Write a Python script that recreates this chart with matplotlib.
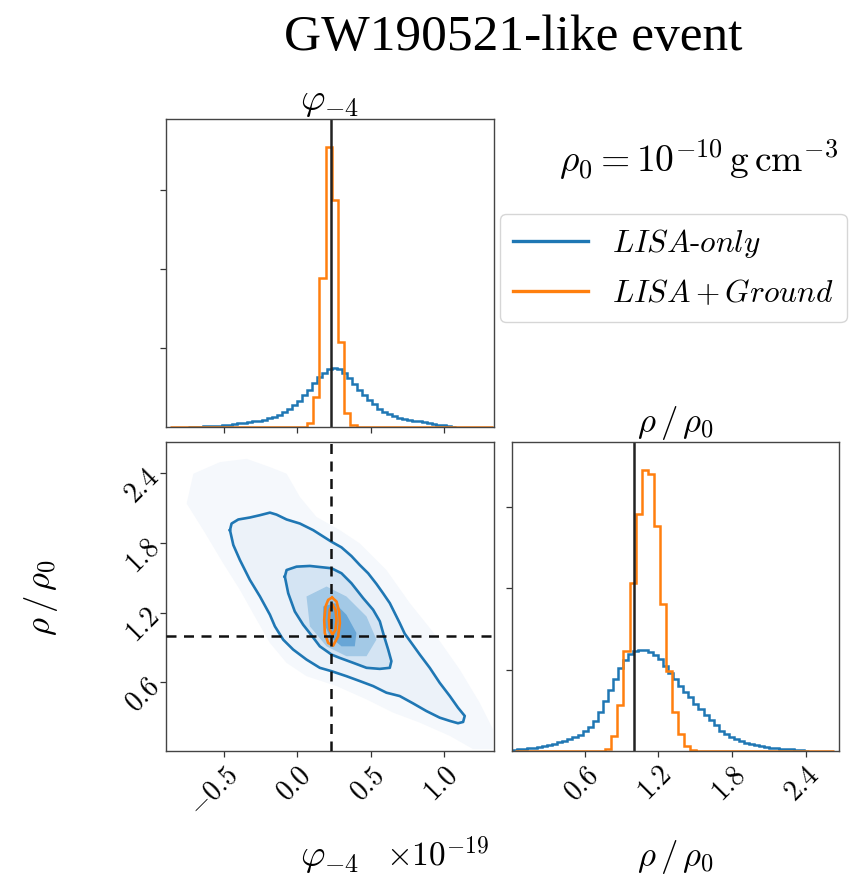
import numpy as np
import matplotlib
matplotlib.use('Agg')
import matplotlib.pyplot as plt
from matplotlib.lines import Line2D
from matplotlib.patches import Polygon

plt.rcParams['mathtext.fontset'] = 'cm'
plt.rcParams['font.family'] = ['DejaVu Serif']

# ---------------- data ----------------
phi_truth = 0.232
rho_truth = 1.0
phi_lim = (-0.898, 1.343)
rho_lim = (0.01, 2.67)

phi_ticks = [-0.5, 0.0, 0.5, 1.0]
phi_ticklabels = [r'$-0.5$', r'$0.0$', r'$0.5$', r'$1.0$']
rho_ticks = [0.6, 1.2, 1.8, 2.4]
rho_ticklabels = [r'$0.6$', r'$1.2$', r'$1.8$', r'$2.4$']
hist_yticks = [1, 2, 3]

# phi_-4 marginal, LISA-only (54 bins)
phi_blue_range = (-0.75, 1.086)
phi_blue = [0.002, 0.004, 0.006, 0.008, 0.010, 0.013, 0.016, 0.022, 0.030, 0.040,
            0.048, 0.056, 0.064, 0.073, 0.082, 0.095, 0.11, 0.13, 0.155, 0.185,
            0.225, 0.275, 0.33, 0.40, 0.47, 0.56, 0.63, 0.69, 0.73, 0.75,
            0.74, 0.69, 0.62, 0.54, 0.47, 0.40, 0.34, 0.29, 0.23, 0.195,
            0.165, 0.14, 0.12, 0.105, 0.09, 0.08, 0.07, 0.058, 0.047, 0.038,
            0.030, 0.022, 0.012, 0.005]
# phi_-4 marginal, LISA+Ground (52 bins)
phi_orange_range = (-0.8705, 1.3395)
phi_orange = [0, 0, 0, 0, 0, 0, 0, 0, 0, 0,
              0, 0, 0, 0, 0, 0, 0, 0, 0, 0,
              0, 0, 0.045, 0.38, 1.89, 3.55, 2.88, 1.075, 0.18, 0.02,
              0, 0, 0, 0, 0, 0, 0, 0, 0, 0,
              0, 0, 0, 0, 0, 0, 0, 0, 0, 0,
              0, 0]
# rho/rho0 marginal, LISA-only (59 bins)
rho_blue_range = (0.01, 2.429)
rho_blue = [0.015, 0.02, 0.025, 0.032, 0.04, 0.048, 0.06, 0.075, 0.09, 0.105,
            0.12, 0.145, 0.17, 0.20, 0.24, 0.29, 0.37, 0.48, 0.61, 0.75,
            0.89, 1.02, 1.12, 1.19, 1.23, 1.245, 1.24, 1.21, 1.18, 1.13,
            1.05, 0.96, 0.88, 0.80, 0.73, 0.66, 0.58, 0.51, 0.44, 0.38,
            0.32, 0.25, 0.21, 0.17, 0.145, 0.12, 0.10, 0.085, 0.07, 0.06,
            0.05, 0.042, 0.036, 0.03, 0.025, 0.02, 0.017, 0.013, 0.006]
# rho/rho0 marginal, LISA+Ground (53 bins)
rho_orange_range = (0.035, 2.632)
rho_orange = [0, 0, 0, 0, 0, 0, 0, 0, 0, 0,
              0, 0, 0, 0, 0, 0.03, 0.18, 0.57, 1.23, 2.06,
              2.91, 3.45, 3.40, 2.76, 1.81, 0.98, 0.48, 0.21, 0.06, 0.01,
              0, 0, 0, 0, 0, 0, 0, 0, 0, 0,
              0, 0, 0, 0, 0, 0, 0, 0, 0, 0,
              0, 0, 0]

# 2D: LISA-only contours (phi, rho)
blue_outer_phi = [-0.461, -0.450, -0.404, -0.325, -0.256, -0.188, -0.143, -0.074, 0.017, 0.108,
                  0.233, 0.301, 0.369, 0.426, 0.483, 0.540, 0.585, 0.631, 0.665, 0.699,
                  0.733, 0.779, 0.836, 0.904, 0.972, 1.041, 1.097, 1.143, 1.132, 1.097,
                  1.041, 0.972, 0.881, 0.790, 0.699, 0.608, 0.517, 0.426, 0.335, 0.233,
                  0.153, 0.062, -0.029, -0.097, -0.154, -0.188, -0.256, -0.325, -0.393, -0.438,
                  -0.461]
blue_outer_rho = [1.911, 1.968, 2.003, 2.020, 2.040, 2.062, 2.045, 2.003, 1.968, 1.911,
                  1.811, 1.763, 1.688, 1.611, 1.540, 1.448, 1.368, 1.283, 1.197, 1.111,
                  1.020, 0.940, 0.840, 0.726, 0.597, 0.483, 0.383, 0.312, 0.260, 0.249,
                  0.269, 0.297, 0.354, 0.420, 0.483, 0.512, 0.569, 0.612, 0.654, 0.697,
                  0.726, 0.797, 0.883, 0.968, 1.083, 1.183, 1.340, 1.483, 1.654, 1.783,
                  1.911]
blue_inner_phi = [-0.086, -0.074, -0.006, 0.085, 0.233, 0.301, 0.369, 0.449, 0.517, 0.563,
                  0.590, 0.620, 0.642, 0.631, 0.563, 0.472, 0.381, 0.290, 0.233, 0.153,
                  0.096, 0.039, -0.018, -0.063, -0.086]
blue_inner_rho = [1.511, 1.568, 1.597, 1.603, 1.583, 1.540, 1.454, 1.326, 1.226, 1.126,
                  1.006, 0.883, 0.783, 0.726, 0.717, 0.726, 0.769, 0.811, 0.840, 0.911,
                  1.006, 1.097, 1.211, 1.368, 1.511]
# 2D: LISA+Ground contours
orange_outer_phi = [0.237, 0.267, 0.285, 0.290, 0.278, 0.244, 0.210, 0.187, 0.183, 0.192, 0.210, 0.237]
orange_outer_rho = [1.331, 1.297, 1.211, 1.111, 0.997, 0.917, 0.940, 1.026, 1.140, 1.254, 1.311, 1.331]
orange_inner_phi = [0.240, 0.260, 0.267, 0.260, 0.240, 0.221, 0.215, 0.221, 0.240]
orange_inner_rho = [1.268, 1.226, 1.140, 1.054, 1.011, 1.054, 1.140, 1.226, 1.268]

# 2D: LISA-only density regions (faint cloud and denser core)
cloud_phi = [-0.711, -0.529, -0.347, -0.188, -0.074, 0.017, 0.130, 0.290, 0.426, 0.608,
             0.768, 0.950, 1.109, 1.245, 1.336, 1.336, 1.200, 1.041, 0.836, 0.654,
             0.472, 0.267, 0.062, -0.074, -0.188, -0.279, -0.393, -0.507, -0.643, -0.757]
cloud_rho = [2.397, 2.497, 2.525, 2.454, 2.397, 2.197, 2.025, 1.911, 1.797, 1.568,
             1.283, 0.997, 0.711, 0.426, 0.197, 0.026, 0.026, 0.140, 0.254, 0.340,
             0.454, 0.569, 0.654, 0.768, 0.940, 1.140, 1.397, 1.625, 1.911, 2.140]
core_mid_phi = [0.062, 0.199, 0.335, 0.472, 0.540, 0.472, 0.335, 0.199, 0.085]
core_mid_rho = [1.340, 1.426, 1.340, 1.168, 0.969, 0.826, 0.826, 0.911, 1.083]
core_dark_phi = [0.176, 0.256, 0.335, 0.403, 0.392, 0.301, 0.221, 0.176]
core_dark_rho = [1.254, 1.283, 1.183, 1.026, 0.911, 0.911, 0.997, 1.126]

labels = [r'$LISA\text{-}only$', r'$LISA+Ground$']
c_blue = '#1f77b4'
c_orange = '#ff7f0e'

# ---------------- figure ----------------
W, H = 859, 882
fig = plt.figure(figsize=(W / 100, H / 100), dpi=100)


def ax_px(x0, y0, x1, y1):
    return fig.add_axes([x0 / W, 1 - y1 / H, (x1 - x0) / W, (y1 - y0) / H])


ax_top = ax_px(166, 119, 494, 427)
ax_2d = ax_px(166, 442, 494, 751)
ax_r = ax_px(512, 442, 839, 751)

spine_col = '#444444'
tick_fs = 20
for ax in (ax_top, ax_2d, ax_r):
    for s in ax.spines.values():
        s.set_color(spine_col)
        s.set_linewidth(1.0)
    ax.tick_params(direction='out', length=4, width=0.9, color='#333333', labelsize=tick_fs)

lw = 1.8
# top marginal
e = np.linspace(phi_blue_range[0], phi_blue_range[1], len(phi_blue) + 1)
ax_top.stairs(phi_blue, e, color=c_blue, lw=lw, baseline=0)
e = np.linspace(phi_orange_range[0], phi_orange_range[1], len(phi_orange) + 1)
ax_top.stairs(phi_orange, e, color=c_orange, lw=lw, baseline=0)
ax_top.axvline(phi_truth, color='#222222', lw=1.8)
ax_top.set_xlim(phi_lim)
ax_top.set_ylim(0, 1.1 * max(phi_orange))
ax_top.set_xticks(phi_ticks)
ax_top.set_xticklabels([])
ax_top.set_yticks(hist_yticks)
ax_top.set_yticklabels([])
ax_top.set_title(r'$\varphi_{-4}$', fontsize=27, pad=6)

# right marginal
e = np.linspace(rho_blue_range[0], rho_blue_range[1], len(rho_blue) + 1)
ax_r.stairs(rho_blue, e, color=c_blue, lw=lw, baseline=0)
e = np.linspace(rho_orange_range[0], rho_orange_range[1], len(rho_orange) + 1)
ax_r.stairs(rho_orange, e, color=c_orange, lw=lw, baseline=0)
ax_r.axvline(rho_truth, color='#222222', lw=1.8)
ax_r.set_xlim(rho_lim)
ax_r.set_ylim(0, 1.1 * max(rho_orange))
ax_r.set_xticks(rho_ticks)
ax_r.set_xticklabels(rho_ticklabels, rotation=45, ha='right', va='top', rotation_mode='anchor')
ax_r.set_yticks(hist_yticks)
ax_r.set_yticklabels([])
ax_r.set_title(r'$\rho\,/\,\rho_0$', fontsize=25, pad=5)

# 2D panel
fills = [(cloud_phi, cloud_rho, '#f5f8fc'),
         (blue_outer_phi, blue_outer_rho, '#ecf2f9'),
         (blue_inner_phi, blue_inner_rho, '#d4e4f3'),
         (core_mid_phi, core_mid_rho, '#a3c9e6'),
         (core_dark_phi, core_dark_rho, '#68a6d6')]
for px, py, col in fills:
    ax_2d.add_patch(Polygon(np.column_stack([px, py]), closed=True, facecolor=col,
                            edgecolor='none', zorder=1))
ax_2d.plot(blue_outer_phi, blue_outer_rho, color=c_blue, lw=1.9, zorder=3)
ax_2d.plot(blue_inner_phi, blue_inner_rho, color=c_blue, lw=1.9, zorder=3)
ax_2d.plot(orange_outer_phi, orange_outer_rho, color=c_orange, lw=1.9, zorder=4)
ax_2d.plot(orange_inner_phi, orange_inner_rho, color=c_orange, lw=1.9, zorder=4)
ax_2d.axvline(phi_truth, color='#111111', lw=1.8, ls=(0, (4, 3)), zorder=5)
ax_2d.axhline(rho_truth, color='#111111', lw=1.8, ls=(0, (4, 3)), zorder=5)
ax_2d.set_xlim(phi_lim)
ax_2d.set_ylim(rho_lim)
ax_2d.set_xticks(phi_ticks)
ax_2d.set_xticklabels(phi_ticklabels, rotation=45, ha='right', va='top', rotation_mode='anchor')
ax_2d.set_yticks(rho_ticks)
ax_2d.set_yticklabels(rho_ticklabels, rotation=45, ha='right', va='center', rotation_mode='anchor')

# axis labels
fig.text(330 / W, 1 - 866 / H, r'$\varphi_{-4}$', fontsize=27, ha='center', va='baseline')
fig.text(489 / W, 1 - 866 / H, r'$\times10^{-19}$', fontsize=24, ha='right', va='baseline')
fig.text(675 / W, 1 - 866 / H, r'$\rho\,/\,\rho_0$', fontsize=25, ha='center', va='baseline')
fig.text(41 / W, 1 - 598 / H, r'$\rho\,/\,\rho_0$', fontsize=25, ha='center', va='center', rotation=90)

# annotations
fig.text(838 / W, 1 - 172 / H, r'$\rho_0 = 10^{-10}\,\mathrm{g\,cm^{-3}}$', fontsize=27,
         ha='right', va='baseline')
fig.text(513 / W, 1 - 50 / H, 'GW190521-like event', fontsize=37, ha='center', va='baseline',
         family='Liberation Serif')

handles = [Line2D([], [], color=c_blue, lw=2.4), Line2D([], [], color=c_orange, lw=2.4)]
leg = fig.legend(handles, labels, loc='upper left', bbox_to_anchor=(500 / W, 1 - 214 / H),
                 fontsize=22.5, frameon=True, fancybox=True, handlelength=2.4,
                 borderpad=0.4, labelspacing=0.6, handletextpad=0.8, borderaxespad=0)
leg.get_frame().set_edgecolor('#cccccc')

fig.savefig('out.png', dpi=100)
